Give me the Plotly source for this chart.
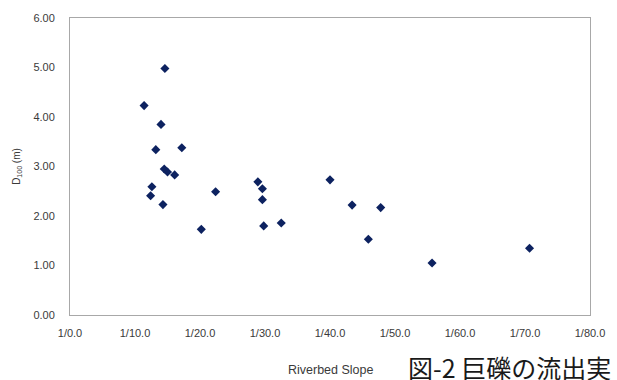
import plotly.graph_objects as go

# Riverbed slope (denominator of 1/n) and maximum boulder size D100 (m)
slope_denominator = [14.6, 11.4, 14.0, 13.2, 17.2, 14.5, 15.0, 16.1, 12.6, 12.4,
                     14.3, 20.2, 22.4, 28.9, 29.6, 29.6, 29.8, 32.5, 40.0, 43.4,
                     47.8, 45.9, 55.7, 70.7]
d100 = [4.98, 4.23, 3.85, 3.34, 3.38, 2.95, 2.89, 2.83, 2.59, 2.41,
        2.23, 1.73, 2.49, 2.69, 2.55, 2.33, 1.80, 1.86, 2.73, 2.22,
        2.17, 1.53, 1.05, 1.35]

x_tick_values = [0, 10, 20, 30, 40, 50, 60, 70, 80]
x_tick_labels = ["1/0.0", "1/10.0", "1/20.0", "1/30.0", "1/40.0",
                 "1/50.0", "1/60.0", "1/70.0", "1/80.0"]
y_tick_values = [0, 1, 2, 3, 4, 5, 6]

font_family = "Liberation Sans, Arial, sans-serif"
text_color = "#3a3a3a"
frame_color = "#a8a8a8"

fig = go.Figure(
    go.Scatter(
        x=slope_denominator,
        y=d100,
        mode="markers",
        marker=dict(symbol="diamond", size=7, color="#0d2260",
                    line=dict(width=0)),
        hoverinfo="x+y",
    )
)

fig.update_layout(
    width=617,
    height=380,
    margin=dict(l=70, r=19, t=15, b=65),
    paper_bgcolor="white",
    plot_bgcolor="white",
    showlegend=False,
    font=dict(family=font_family, size=11, color=text_color),
    xaxis=dict(
        range=[0, 80],
        tickvals=x_tick_values,
        ticktext=x_tick_labels,
        ticks="",
        ticklabelstandoff=8,
        showgrid=False,
        zeroline=False,
        showline=True,
        linecolor=frame_color,
        linewidth=1,
        mirror=True,
        tickfont=dict(size=11, color=text_color),
    ),
    yaxis=dict(
        range=[0, 6],
        tickvals=y_tick_values,
        tickformat=".2f",
        ticks="",
        ticklabelstandoff=12,
        showgrid=False,
        zeroline=False,
        showline=True,
        linecolor=frame_color,
        linewidth=1,
        mirror=True,
        tickfont=dict(size=11, color=text_color),
        title=dict(text="D<sub>100</sub> (m)", font=dict(size=10, color=text_color),
                   standoff=10),
    ),
    annotations=[
        dict(text="Riverbed Slope", xref="paper", yref="paper",
             x=(335 - 70) / 528, y=-(371 - 315) / 300,
             xanchor="center", yanchor="middle", showarrow=False,
             font=dict(size=12.5, color=text_color, family=font_family)),
        dict(text="図-2 巨礫の流出実", xref="paper", yref="paper",
             x=(411 - 70) / 528, y=-(368 - 315) / 300,
             xanchor="left", yanchor="middle", showarrow=False,
             font=dict(size=25, color="#1a1a1a",
                       family="Noto Sans CJK JP, sans-serif")),
    ],
)

fig.write_html("out.html")
